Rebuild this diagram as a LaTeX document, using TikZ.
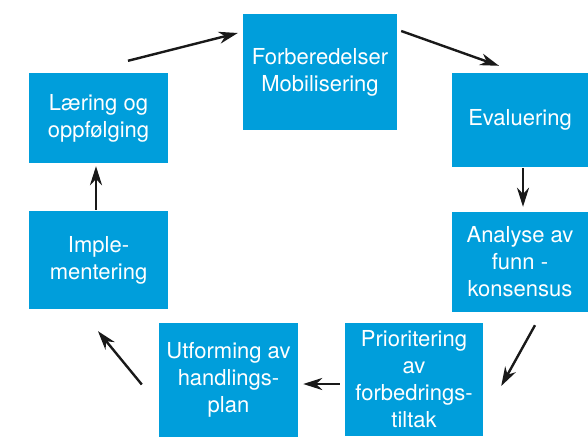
\documentclass[tikz,border=0pt]{standalone}
\usepackage{fontspec}
\setmainfont{TeX Gyre Heros}
\usepackage{xcolor}
\usepackage{tikz}
\usetikzlibrary{arrows.meta}
\usetikzlibrary{calc}
\usetikzlibrary{positioning}

\definecolor{stepblue}{RGB}{0,158,219}

\begin{document}
\begin{tikzpicture}[->,>={Stealth[length=19pt,width=12pt,inset=6pt]},line width=2.4pt,draw=black!90,
    main node/.style={rectangle,fill=stepblue,text=white,align=center,inner sep=0pt,
        font=\fontsize{22pt}{27pt}\selectfont}]

    \useasboundingbox (0pt,0pt) rectangle (588pt,-436pt);

    \node[main node,minimum width=154pt,minimum height=116pt] (forb) at (320pt,-72pt) {Forberedelser\\Mobilisering};
    \node[main node,minimum width=136pt,minimum height=94pt,on grid,below right=48pt and 200pt of forb] (evaluering) {Evaluering};
    \node[main node,minimum width=136pt,minimum height=100pt,on grid,below=142pt of evaluering] (analyse) {Analyse av\\funn -\\konsensus};
    \node[main node,minimum width=138pt,minimum height=113pt,on grid,below left=117.5pt and 106pt of analyse] (prioritering) {Prioritering\\av\\forbedrings-\\tiltak};
    \node[main node,minimum width=139pt,minimum height=114pt,on grid,left=185.5pt of prioritering] (utforming) {Utforming av\\handlings-\\plan};
    \node[main node,minimum width=139pt,minimum height=98pt,on grid,above left=119.5pt and 130pt of utforming] (impl) {Imple-\\mentering};
    \node[main node,minimum width=139pt,minimum height=90pt,on grid,above=142pt of impl] (laering) {Læring og\\oppfølging};

    \draw ($(laering.north)+(29.5pt,11pt)$) -- ($(forb.west)+(-4pt,39pt)$);
    \draw ($(forb.east)+(3pt,41pt)$) -- ($(evaluering.north)+(-21pt,6pt)$);
    \draw ($(evaluering.south)+(3pt,0pt)$) -- ($(analyse.north)+(3pt,4pt)$);
    \draw ($(analyse.south)+(15pt,-12pt)$) -- ($(prioritering.east)+(17pt,-6.5pt)$);
    \draw ($(prioritering.west)+(-4pt,-4.5pt)$) -- ($(utforming.east)+(4pt,-4.5pt)$);
    \draw ($(utforming.west)+(-16pt,-5pt)$) -- ($(impl.south)+(-0.5pt,-21pt)$);
    \draw ($(impl.north)+(-2.5pt,0pt)$) -- ($(laering.south)+(-2.5pt,-2pt)$);

\end{tikzpicture}
\end{document}
